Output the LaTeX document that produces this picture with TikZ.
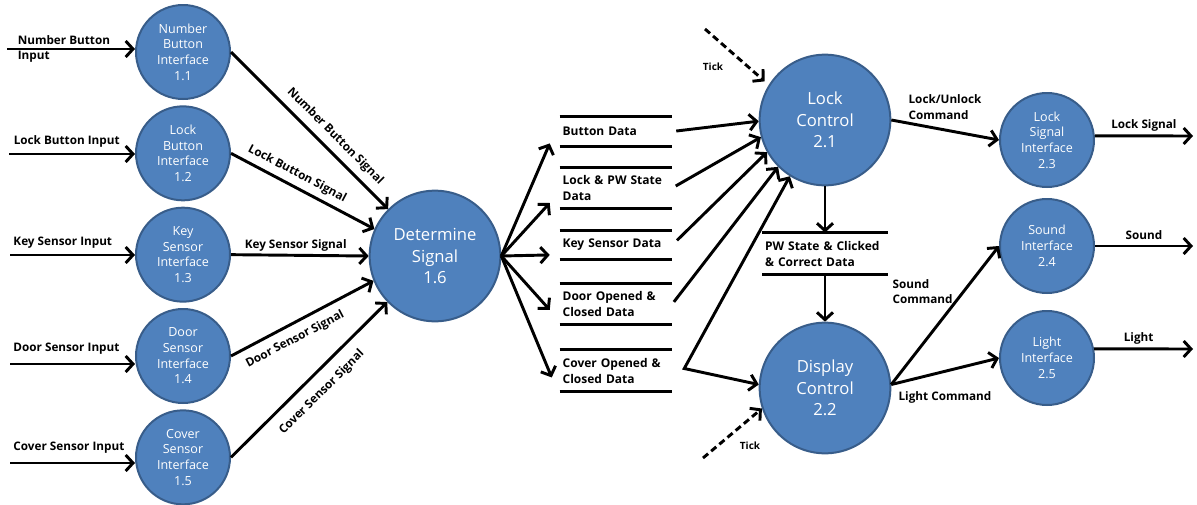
\documentclass[tikz,border=0pt]{standalone}
\usepackage{fontspec}
\setmainfont{Open Sans}
\usetikzlibrary{positioning,arrows.meta,calc}
\definecolor{procblue}{HTML}{4F81BD}
\definecolor{procedge}{HTML}{385D8A}
\begin{document}
\begin{tikzpicture}[x=0.75pt, y=-0.75pt, >={Straight Barb[length=5.5pt,width=12pt]},
    main/.style = {draw=procedge, fill=procblue, circle, line width=1.5pt, text=white, align=center, inner sep=0pt, minimum size=70.5pt, font=\fontsize{9.4}{11.8}\selectfont},
    big/.style = {main, minimum size=98pt, font=\fontsize{12.5}{16}\selectfont},
    lab/.style = {font=\fontsize{8.8}{11.5}\selectfont\bfseries, inner sep=1pt, align=left},
    store/.style = {lab, text width=80pt, inner xsep=2pt, inner ysep=0pt, minimum height=22pt, font=\fontsize{9}{12}\selectfont\bfseries},
    store2/.style = {store, minimum height=31pt},
    flow/.style = {line width=2.2pt, ->},
    clock/.style = {flow, dash pattern=on 5pt off 3pt},
    storeline/.style = {line width=2.2pt}]
\useasboundingbox (0,0) rectangle (1197,504);

% interfaces
\node[main] (n11) at (183,52) {Number\\Button\\Interface\\1.1};
\node[main, below=4pt of n11] (n12) {Lock\\Button\\Interface\\1.2};
\node[main, below=4pt of n12] (n13) {Key\\Sensor\\Interface\\1.3};
\node[main, below=4pt of n13] (n14) {Door\\Sensor\\Interface\\1.4};
\node[main, below=4pt of n14] (n15) {Cover\\Sensor\\Interface\\1.5};
\node[big] (ds) at (435,256) {Determine\\Signal\\1.6};

% data stores
\node[store] (bd) at (616,131.5) {Button Data};
\node[store2] (lp) at (616,188) {Lock \& PW State\\Data};
\node[store] (ks) at (616,245) {Key Sensor Data};
\node[store2] (dd) at (616,304) {Door Opened \&\\Closed Data};
\node[store2] (cd) at (616,370.5) {Cover Opened \&\\Closed Data};
\node[store2, text width=90pt] (pw) at (825,253.5) {PW State \& Clicked\\\& Correct Data};
\foreach \s in {bd,lp,ks,dd,cd,pw}
    \draw[storeline] (\s.north west) -- (\s.north east) (\s.south west) -- (\s.south east);

% controls
\node[big] (lc) at (825,120) {Lock\\Control\\2.1};
\node[big] (dc) at (825,388) {Display\\Control\\2.2};
\node[main] (lsi) at (1047,140) {Lock\\Signal\\Interface\\2.3};
\node[main] (sdi) at (1047,246) {Sound\\Interface\\2.4};
\node[main] (lti) at (1047,358) {Light\\Interface\\2.5};

% inputs
\coordinate (i1) at (7,49);
\coordinate (i2) at (9,154);
\coordinate (i3) at (10,255);
\coordinate (i4) at (10,364);
\coordinate (i5) at (10,463);
\draw[flow] (i1) -- (i1 -| n11.west) node[lab, pos=0, anchor=west, xshift=6pt] {Number Button\\Input};
\draw[flow] (i2) -- (i2 -| n12.west) node[lab, pos=0, anchor=south west, xshift=1.5pt, yshift=3pt] {Lock Button Input};
\draw[flow] (i3) -- (i3 -| n13.west) node[lab, pos=0, anchor=south west, xshift=0.5pt, yshift=3pt] {Key Sensor Input};
\draw[flow] (i4) -- (i4 -| n14.west) node[lab, pos=0, anchor=south west, xshift=0.5pt, yshift=5pt] {Door Sensor Input};
\draw[flow] (i5) -- (i5 -| n15.west) node[lab, pos=0, anchor=south west, xshift=0.5pt, yshift=5pt] {Cover Sensor Input};

% signals
\draw[flow] (n11.east) -- (ds.135) node[lab, pos=0.6, sloped, above=4pt] {Number Button Signal};
\draw[flow] (n12.east) -- (ds.156) node[lab, pos=0.42, sloped, above=3pt] {Lock Button Signal};
\draw[flow] (n13.east) -- (ds.west) node[lab, pos=0.47, above=1pt] {Key Sensor Signal};
\draw[flow] (n14.east) -- (ds.202) node[lab, pos=0.4, sloped, below=5pt] {Door Sensor Signal};
\draw[flow] (n15.east) -- (ds.224) node[lab, pos=0.5, sloped, below=7pt] {Cover Sensor Signal};

\draw[flow] (ds.east) -- ($(bd.south west)+(-10,-3)$);
\draw[flow] (ds.east) -- ($(lp.south west)+(-10,-6)$);
\draw[flow] (ds.east) -- ($(ks.south west)+(-10,-5)$);
\draw[flow] (ds.east) -- ($(dd.south west)+(-10,-15)$);
\draw[flow] (ds.east) -- ($(cd.south west)+(-8,-14)$);

% into the controls
\draw[flow, shorten <=3pt] (bd.east) -- (lc.181);
\draw[flow, shorten <=3pt] (lp.east) -- (lc.195);
\draw[flow, shorten <=5pt] (ks.east) -- (lc.209);
\draw[flow, shorten <=2pt] (dd.east) -- (lc.225);
\coordinate (cv) at ($(cd.east)+(12,-2)$);
\draw[flow, <->] (lc.238) -- (cv) -- (dc.177);
\draw[flow] (lc.south) -- (pw.north);
\draw[flow] (pw.south) -- (dc.north);

\coordinate (t1) at (705,29);
\coordinate (t2) at (703,458);
\draw[clock, shorten >=4pt] (t1) -- (lc.148);
\draw[clock] (t2) -- (dc.198);
\node[lab, font=\fontsize{7.5}{9}\selectfont\bfseries] at (713,67) {Tick};
\node[lab, font=\fontsize{7.5}{9}\selectfont\bfseries] at (750,446) {Tick};

% outputs
\draw[flow] (lc.east) -- (lsi.west);
\node[lab, anchor=west] at (907,107) {Lock/Unlock\\Command};
\draw[flow] (dc.3) -- (sdi.west);
\node[lab, anchor=west] at (891,291.5) {Sound\\Command};
\draw[flow] (dc.3) -- (lti.west);
\node[lab, anchor=west] at (897,397) {Light Command};

\coordinate (o1) at (1193,136);
\coordinate (o2) at (1193,246);
\coordinate (o3) at (1193,349);
\draw[flow] (lsi.5) -- (o1) node[lab, midway, above=1pt] {Lock Signal};
\draw[flow] (sdi.east) -- (o2) node[lab, midway, above=2.5pt] {Sound};
\draw[flow] (lti.11) -- (o3) node[lab, pos=0.45, above=1pt] {Light};
\end{tikzpicture}
\end{document}
